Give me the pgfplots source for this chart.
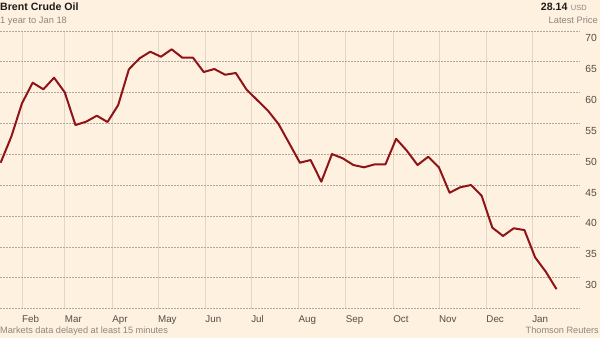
\documentclass[border=0pt]{standalone}
\usepackage{fontspec}
\setmainfont{Liberation Sans}
\usepackage{pgfplots}
\pgfplotsset{compat=1.18}
\usetikzlibrary{backgrounds}
\definecolor{ftbg}{HTML}{FFF1E0}
\definecolor{ftline}{RGB}{142,20,24}
\definecolor{vgrid}{RGB}{228,214,198}
\definecolor{hgrid}{RGB}{178,168,158}
\definecolor{ticktext}{RGB}{82,77,72}
\definecolor{subgray}{RGB}{140,134,128}
\definecolor{titletext}{RGB}{30,28,26}
\begin{document}
\begin{tikzpicture}[x=1pt,y=1pt]
\begin{axis}[
  scale only axis, width=580pt, height=277.7pt,
  xmin=-14.4, xmax=365.4, ymin=25, ymax=70,
  axis line style={draw=none}, tick style={draw=none},
  xtick={0,28,59,89,120,150,181,212,243,273,304,334},
  xticklabels={Feb,Mar,Apr,May,Jun,Jul,Aug,Sep,Oct,Nov,Dec,Jan},
  ytick={30,35,...,70},
  extra y ticks={25}, extra y tick labels={}, extra tick style={grid=major},
  xmajorgrids, ymajorgrids,
  x grid style={color=vgrid, line width=0.6pt},
  y grid style={color=hgrid, dash pattern=on 1.5pt off 1.5pt, line width=0.5pt},
  yticklabel pos=right,
  /pgf/number format/assume math mode=true,
  yticklabel style={anchor=east, inner sep=0pt, xshift=17pt, yshift=-7.5pt, font=\fontsize{10.3}{11}\selectfont, text=ticktext},
  xticklabel style={anchor=base west, inner sep=0pt, yshift=-14.2pt, font=\fontsize{9.8}{11}\selectfont, text=ticktext},
  clip=false,
]
\coordinate (O) at (rel axis cs:0,0);
\addplot[color=ftline, line width=2pt, line join=round, mark=none] table {
x y
-14 48.62
-7 52.84
0 58.25
7 61.59
14 60.52
21 62.40
28 60.03
35 54.73
42 55.27
49 56.24
56 55.22
63 57.97
70 63.76
77 65.54
84 66.61
91 65.80
98 67.00
105 65.64
112 65.64
119 63.32
126 63.81
133 62.88
140 63.16
147 60.49
154 58.78
161 57.08
168 54.89
175 51.77
182 48.62
189 49.06
196 45.54
203 50.03
210 49.34
217 48.25
224 47.88
231 48.36
238 48.36
245 52.51
252 50.57
259 48.25
266 49.59
273 47.88
280 43.76
287 44.64
294 45.01
301 43.27
308 38.10
315 36.75
322 38.00
329 37.71
336 33.29
343 30.96
350 28.14
};
\end{axis}
\begin{scope}[shift={(O)}]
\begin{scope}[on background layer]
\fill[ftbg] (0,-29.5) rectangle (600,308.5);
\end{scope}
\node[anchor=base west, inner sep=0pt, text=titletext, font=\bfseries\fontsize{10.6}{12}\selectfont] at (0,297.5) {Brent Crude Oil};
\node[anchor=base west, inner sep=0pt, text=subgray, font=\fontsize{9.3}{11}\selectfont] at (0,284.5) {1 year to Jan 18};
\node[anchor=base east, inner sep=0pt] at (587,297.5) {{\color{titletext}\bfseries\fontsize{10.6}{12}\selectfont 28.14}\hspace{3.5pt}{\color{subgray}\fontsize{7.5}{9}\selectfont USD}};
\node[anchor=base east, inner sep=0pt, text=subgray, font=\fontsize{9.3}{11}\selectfont] at (598,284.5) {Latest Price};
\node[anchor=base west, inner sep=0pt, text=subgray, font=\fontsize{9.2}{11}\selectfont] at (0,-24.8) {Markets data delayed at least 15 minutes};
\node[anchor=base east, inner sep=0pt, text=subgray, font=\fontsize{9.2}{11}\selectfont] at (599,-24.8) {Thomson Reuters};
\pgfresetboundingbox
\useasboundingbox (0,-29.5) rectangle (600,308.5);
\end{scope}
\end{tikzpicture}
\end{document}
